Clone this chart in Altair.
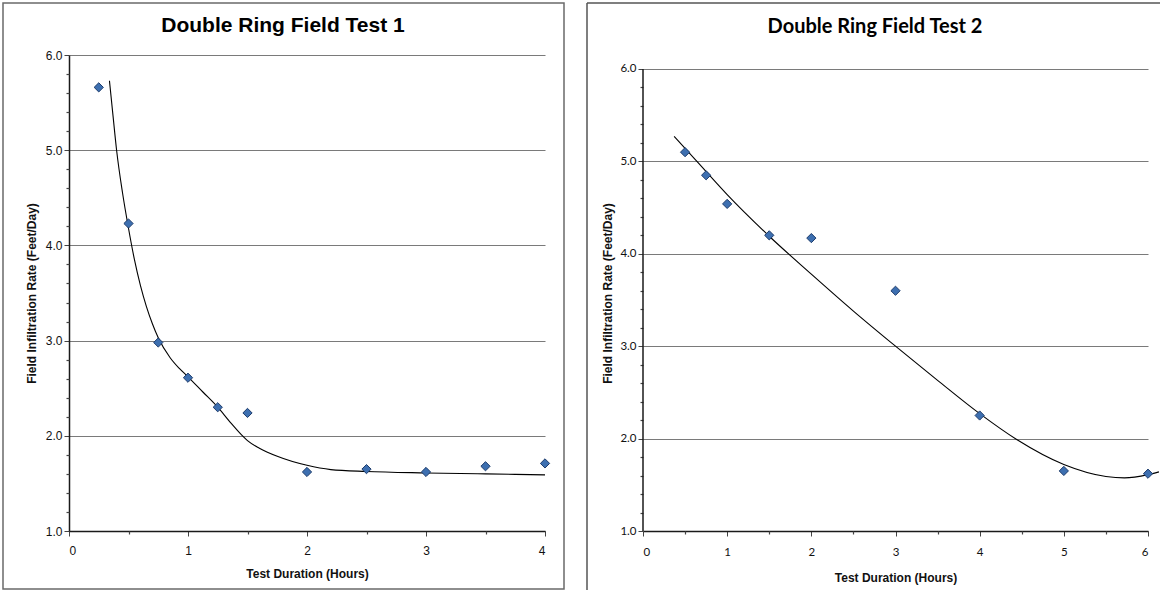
import altair as alt
import pandas as pd

title1 = "Double Ring Field Test 1"
title2 = "Double Ring Field Test 2"
x_title = "Test Duration (Hours)"
y_title = "Field Infiltration Rate (Feet/Day)"

# Test 1 measured points
t1_hours = [0.25, 0.5, 0.75, 1.0, 1.25, 1.5, 2.0, 2.5, 3.0, 3.5, 4.0]
t1_rate = [5.66, 4.23, 2.98, 2.61, 2.30, 2.24, 1.62, 1.65, 1.62, 1.68, 1.71]
# Test 1 trend line
t1_trend_hours = [0.34, 0.37, 0.40, 0.45, 0.50, 0.55, 0.60, 0.65, 0.70, 0.75, 0.85, 0.925,
                  1.0, 1.125, 1.25, 1.35, 1.45, 1.5, 1.6, 1.75, 2.0, 2.2, 2.5, 3.0, 3.5, 4.0]
t1_trend_rate = [5.73, 5.36, 5.0, 4.55, 4.18, 3.85, 3.58, 3.36, 3.18, 3.03, 2.82, 2.71,
                 2.62, 2.46, 2.30, 2.15, 2.01, 1.95, 1.87, 1.785, 1.69, 1.645, 1.625, 1.61, 1.60, 1.59]

# Test 2 measured points
t2_hours = [0.5, 0.75, 1.0, 1.5, 2.0, 3.0, 4.0, 5.0, 6.0]
t2_rate = [5.10, 4.85, 4.54, 4.20, 4.17, 3.60, 2.25, 1.65, 1.62]
# Test 2 trend line
t2_trend_hours = [0.37, 0.5, 0.63, 1.0, 1.5, 2.0, 2.5, 3.0, 3.5, 4.0, 4.44,
                  5.0, 5.5, 5.72, 6.0, 6.13]
t2_trend_rate = [5.27, 5.14, 5.01, 4.64, 4.19, 3.78, 3.38, 3.0, 2.63, 2.27, 1.99,
                 1.72, 1.59, 1.575, 1.61, 1.64]

y_ticks = [1, 2, 3, 4, 5, 6]
y_minor = [1.2, 1.4, 1.6, 1.8, 2.2, 2.4, 2.6, 2.8, 3.2, 3.4, 3.6, 3.8,
           4.2, 4.4, 4.6, 4.8, 5.2, 5.4, 5.6, 5.8]
t1_x_ticks = [0, 1, 2, 3, 4]
t1_x_minor = [0.5, 1.5, 2.5, 3.5]
t2_x_ticks = [0, 1, 2, 3, 4, 5, 6]
t2_x_minor = [0.5, 1.5, 2.5, 3.5, 4.5, 5.5]

FILL = "#3d6fb0"
EDGE = "#1d3c6c"
GRID = "#7a7a7a"
AXIS = "#1a1a1a"


def panel(hours, rate, th, tr, x_dom, x_ticks, x_minor, y_dom,
          title, title_x, title_y, title_font, title_size, label_font, label_size,
          y_domain_line, x_label_pad, x_title_pad, y_title_pad):
    pts = pd.DataFrame({"hours": hours, "rate": rate})
    trend = pd.DataFrame({"hours": th, "rate": tr})
    xs = alt.Scale(domain=x_dom, nice=False, zero=False)
    ys = alt.Scale(domain=y_dom, nice=False, zero=False)

    main_axes = alt.Chart(pts).mark_point(opacity=0).encode(
        x=alt.X("hours:Q", scale=xs, axis=alt.Axis(
            values=x_ticks, title=x_title, grid=False, orient="bottom",
            domainColor=AXIS, domainWidth=1.5, tickColor="#444", tickSize=5,
            labelFont=label_font, labelFontSize=label_size, labelColor="#111",
            labelPadding=x_label_pad, format="d",
            titleFont="Liberation Sans", titleFontSize=12, titleFontWeight="bold",
            titleColor="#111", titlePadding=x_title_pad)),
        y=alt.Y("rate:Q", scale=ys, axis=alt.Axis(
            values=y_ticks, title=y_title, grid=True, gridColor=GRID, gridWidth=1.2,
            orient="left", domain=y_domain_line, domainColor=AXIS, domainWidth=1.5,
            tickColor="#444", tickSize=5, format=".1f",
            labelFont=label_font, labelFontSize=label_size, labelColor="#111",
            labelPadding=2,
            titleFont="Liberation Sans", titleFontSize=12, titleFontWeight="bold",
            titleColor="#111", titlePadding=y_title_pad)),
    )
    minor_axes = alt.Chart(pts).mark_point(opacity=0).encode(
        x=alt.X("hours:Q", scale=xs, axis=alt.Axis(
            values=x_minor, labels=False, title=None, grid=False, domain=False,
            orient="bottom", tickColor="#444", tickSize=3, tickWidth=1.2)),
        y=alt.Y("rate:Q", scale=ys, axis=alt.Axis(
            values=y_minor, labels=False, title=None, grid=False, domain=False,
            orient="left", tickColor="#444", tickSize=3, tickWidth=1.2)),
    )
    line = alt.Chart(trend).mark_line(color="black", strokeWidth=1.1,
                                      interpolate="monotone").encode(
        x=alt.X("hours:Q", scale=xs, axis=None),
        y=alt.Y("rate:Q", scale=ys, axis=None),
    )
    points = alt.Chart(pts).mark_point(shape="diamond", filled=True, size=85,
                                       fill=FILL, stroke=EDGE, strokeWidth=1,
                                       opacity=1).encode(
        x=alt.X("hours:Q", scale=xs, axis=None),
        y=alt.Y("rate:Q", scale=ys, axis=None),
    )
    ttl = alt.Chart(pd.DataFrame({"t": [title]})).mark_text(
        font=title_font, fontSize=title_size, fontWeight="bold", color="black",
        align="center", baseline="alphabetic").encode(
        text="t:N", x=alt.value(title_x), y=alt.value(title_y))
    layers = [main_axes, minor_axes, line, points, ttl]
    if not y_domain_line:
        ax = alt.Chart(pd.DataFrame({"lo": [y_ticks[0]], "hi": [y_ticks[-1]]})).mark_rule(
            color=AXIS, strokeWidth=1.5).encode(
            x=alt.value(0), y=alt.Y("lo:Q", scale=ys, axis=None), y2="hi:Q")
        layers.append(ax)
    return layers


left_layers = panel(t1_hours, t1_rate, t1_trend_hours, t1_trend_rate, [0, 4], t1_x_ticks,
                    t1_x_minor, [1, 6], title1, 214, -22.7, "Liberation Sans", 21,
                    "Liberation Sans", 12, True, 9, 12, 7)
left_border = alt.Chart(pd.DataFrame({"a": [0]})).mark_rect(
    filled=False, stroke="#6a6a6a", strokeWidth=1.5).encode(
    x=alt.value(-66), x2=alt.value(495), y=alt.value(-52), y2=alt.value(534))
left = alt.layer(*left_layers, left_border).resolve_axis(
    x="independent", y="independent").properties(width=476, height=476)

right_layers = panel(t2_hours, t2_rate, t2_trend_hours, t2_trend_rate, [0, 6], t2_x_ticks,
                     t2_x_minor, [1, 6.1515], title2, 232, -21.7, "Lato", 20,
                     "Lato", 11.5, False, 10, 15, 5)
rb_top = alt.Chart(pd.DataFrame({"a": [0]})).mark_rule(color="#555", strokeWidth=1.5).encode(
    x=alt.value(-56), x2=alt.value(517), y=alt.value(-52))
rb_left = alt.Chart(pd.DataFrame({"a": [0]})).mark_rule(color="#555", strokeWidth=1.5).encode(
    x=alt.value(-56), y=alt.value(-52), y2=alt.value(535))
right = alt.layer(*right_layers, rb_top, rb_left).resolve_axis(
    x="independent", y="independent").properties(width=505, height=476)

chart = alt.hconcat(left, right, spacing=98, bounds="flush").properties(
    padding={"left": 1, "top": 1, "right": 0, "bottom": 0},
    background="white",
).configure_view(stroke="transparent")

chart.save("out.html", embed_options={"renderer": "svg", "actions": False})
